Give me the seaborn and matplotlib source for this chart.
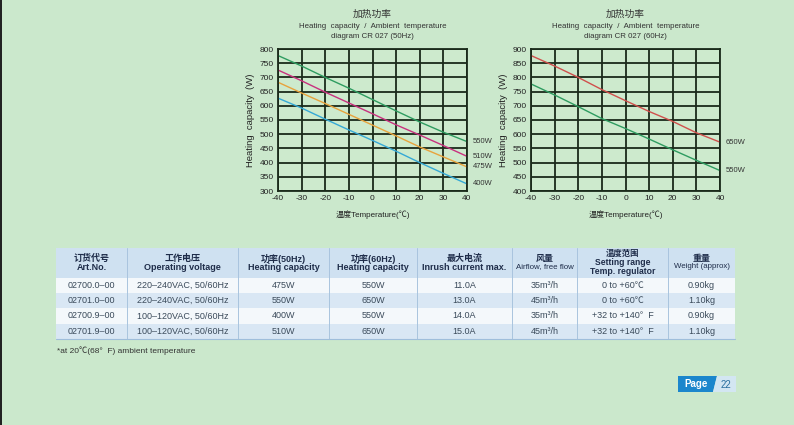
import matplotlib
matplotlib.use('Agg')
import matplotlib.pyplot as plt
import seaborn as sns
import pandas as pd
from matplotlib.patches import Rectangle, Polygon

# data
temps = [-40, -30, -20, -10, 0, 10, 20, 30, 40]
cap50_550 = [777, 740, 700, 662, 622, 582, 543, 507, 474]
cap50_510 = [726, 688, 648, 610, 572, 533, 497, 460, 422]
cap50_475 = [683, 645, 608, 570, 532, 494, 455, 420, 385]
cap50_400 = [627, 592, 553, 515, 478, 440, 400, 362, 325]
cap60_650 = [877, 840, 800, 757, 718, 680, 645, 605, 572]
cap60_550 = [777, 738, 697, 655, 620, 583, 545, 508, 472]

labels50 = ['550W', '510W', '475W', '400W']
labels60 = ['650W', '550W']

header = ['订货代号\nArt.No.', '工作电压\nOperating voltage', '功率(50Hz)\nHeating capacity',
          '功率(60Hz)\nHeating capacity', '最大电流\nInrush current max.', '风量\nAirflow, free flow',
          '温度范围\nSetting range\nTemp. regulator', '重量\nWeight (approx)']
art_no = ['02700.0–00', '02701.0–00', '02700.9–00', '02701.9–00']
voltage = ['220–240VAC, 50/60Hz', '220–240VAC, 50/60Hz', '100–120VAC, 50/60Hz', '100–120VAC, 50/60Hz']
power50 = ['475W', '550W', '400W', '510W']
power60 = ['550W', '650W', '550W', '650W']
inrush = ['11.0A', '13.0A', '14.0A', '15.0A']
airflow = ['35m³/h', '45m³/h', '35m³/h', '45m³/h']
setting = ['0 to +60℃', '0 to +60℃', '+32 to +140°  F', '+32 to +140°  F']
weight = ['0.90kg', '1.10kg', '0.90kg', '1.10kg']

bg = '#cbe8cc'
sns.set_theme(style='white')
plt.rcParams['font.family'] = ['Liberation Sans', 'Noto Sans CJK SC', 'DejaVu Sans']
plt.rcParams['axes.unicode_minus'] = False

fig = plt.figure(figsize=(7.94, 4.25), dpi=100)
fig.patch.set_facecolor(bg)

# page overlay in pixel coords
pg = fig.add_axes([0, 0, 1, 1])
pg.set_xlim(0, 794)
pg.set_ylim(425, 0)
pg.axis('off')
pg.add_patch(Rectangle((0, 0), 1.5, 425, color='#222222', lw=0))


def diagram(rect, series, labels, colors, ylim, yticks, hz):
    ax = fig.add_axes(rect)
    ax.set_facecolor('#cdeacd')
    df = pd.DataFrame({'t': temps * len(series),
                       'w': [v for s in series for v in s],
                       'lab': [l for l in labels for _ in temps]})
    sns.lineplot(data=df, x='t', y='w', hue='lab', palette=dict(zip(labels, colors)),
                 ax=ax, legend=False, linewidth=1.0)
    ax.set_xlim(-40, 40)
    ax.set_ylim(*ylim)
    ax.set_xticks(range(-40, 41, 10))
    ax.set_yticks(yticks)
    ax.grid(True, color='#1a2a1a', linewidth=1.3)
    ax.set_axisbelow(True)
    for sp in ax.spines.values():
        sp.set_color('#1a2a1a')
        sp.set_linewidth(1.3)
    ax.tick_params(labelsize=6, colors='#222222', length=0, pad=3)
    ax.set_xlabel('温度Temperature(℃)', fontsize=5.8, color='#222222', labelpad=6)
    ax.set_ylabel('Heating  capacity  (W)', fontsize=6.8, color='#222222', labelpad=3)
    for s, l in zip(series, labels):
        ax.annotate(l, xy=(40, s[-1]), xytext=(4, 0), textcoords='offset points',
                    fontsize=5.5, color='#333333', va='center', annotation_clip=False)
    cx = rect[0] + rect[2] / 2
    fig.text(cx, 1 - 14 / 425, '加热功率', ha='center', va='center', fontsize=7, color='#333333')
    fig.text(cx, 1 - 26 / 425, 'Heating  capacity  /  Ambient  temperature', ha='center',
             va='center', fontsize=5.7, color='#333333')
    fig.text(cx, 1 - 37 / 425, 'diagram CR 027 (%s)' % hz, ha='center', va='center',
             fontsize=5.7, color='#333333')
    return ax


diagram([278 / 794, 1 - 191 / 425, 189 / 794, 142 / 425],
        [cap50_550, cap50_510, cap50_475, cap50_400], labels50,
        ['#2e9c60', '#c8317e', '#e8a33c', '#35a9d6'], (300, 800), range(300, 801, 50), '50Hz')
diagram([531 / 794, 1 - 191 / 425, 189 / 794, 142 / 425],
        [cap60_650, cap60_550], labels60,
        ['#d0504c', '#2e9c60'], (400, 900), range(400, 901, 50), '60Hz')

# table
edges = [56, 127, 238, 329, 417, 512, 577, 668, 735]
hy0, hy1 = 248, 277.5
rh = 15.4
pg.add_patch(Rectangle((edges[0], hy0), edges[-1] - edges[0], hy1 - hy0, color='#cfe1f1', lw=0))
row_cols = ['#f4f8fb', '#d9e7f4', '#f4f8fb', '#d9e7f4']
for i, c in enumerate(row_cols):
    pg.add_patch(Rectangle((edges[0], hy1 + i * rh), edges[-1] - edges[0], rh, color=c, lw=0))
for x in edges[1:-1]:
    pg.plot([x, x], [hy0, hy1 + 4 * rh], color='#a9c4de', lw=0.7)
pg.plot([edges[0], edges[-1]], [hy1 + 4 * rh, hy1 + 4 * rh], color='#9fbedb', lw=0.8)

for j, h in enumerate(header):
    cx = (edges[j] + edges[j + 1]) / 2
    lines = h.split('\n')
    n = len(lines)
    mid = (hy0 + hy1) / 2
    step = 8.5 if n == 2 else 8.8
    for k, ln in enumerate(lines):
        y = mid + (k - (n - 1) / 2) * step
        if k == 0:
            fs = 6.5 if n == 2 else 6.0
        elif j in (5, 7):
            fs = 5.7
        else:
            fs = 6.5 if n == 2 else 6.2
        pg.text(cx, y, ln, ha='center', va='center', fontsize=fs, color='#1f2d4a',
                fontweight='bold' if (k == 0 or j in (0, 1, 2, 3, 4, 6)) else 'normal')

cols = [art_no, voltage, power50, power60, inrush, airflow, setting, weight]
for j, col in enumerate(cols):
    cx = (edges[j] + edges[j + 1]) / 2
    for i, v in enumerate(col):
        pg.text(cx, hy1 + (i + 0.5) * rh, v, ha='center', va='center', fontsize=6.5,
                color='#3a4a5a')

pg.text(57, 351, '*at 20℃(68°  F) ambient temperature', ha='left', va='center',
        fontsize=6, color='#333333')

# page tab
pg.add_patch(Polygon([(678, 376), (717, 376), (713, 392), (678, 392)], color='#1b86cc', lw=0))
pg.add_patch(Polygon([(717, 376), (736, 376), (736, 392), (713, 392)], color='#d3e6f2', lw=0))
pg.text(696, 384, 'Page', ha='center', va='center', fontsize=7, color='white', fontweight='bold')
pg.text(726, 384.5, '22', ha='center', va='center', fontsize=7, color='#2a6f9f')

fig.savefig('out.png', dpi=100, facecolor=bg)
